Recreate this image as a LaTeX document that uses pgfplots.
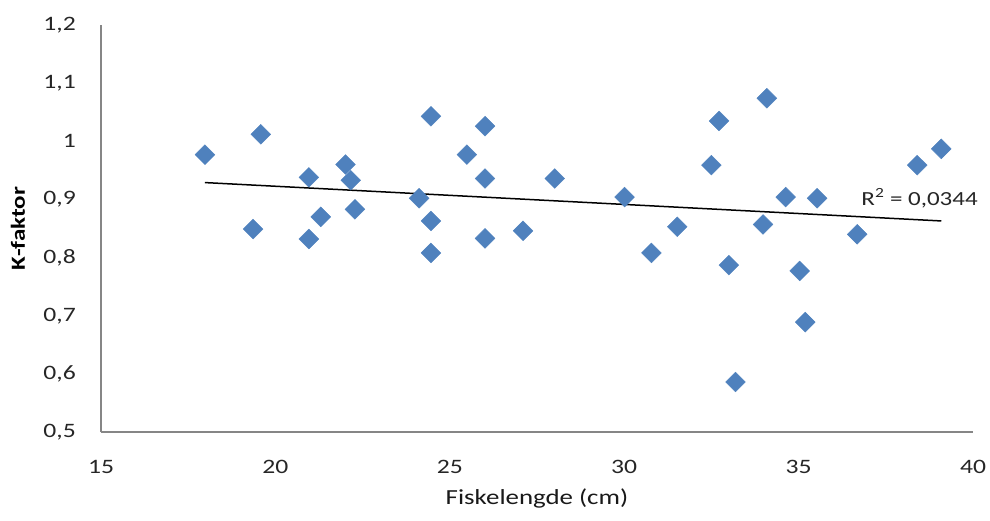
\documentclass[border=0pt]{standalone}
\usepackage{fontspec}
\setmainfont{Carlito}[FakeStretch=1.25]
\usepackage{pgfplots}
\pgfplotsset{compat=1.18}
\definecolor{exblue}{HTML}{4F81BD}
\definecolor{axgray}{HTML}{868686}
\begin{document}
\begin{tikzpicture}
\useasboundingbox (0,0) rectangle (990pt,-520pt);
\begin{axis}[
  at={(101pt,-432pt)}, anchor=south west,
  scale only axis, width=872pt, height=407pt,
  xmin=15, xmax=40, ymin=0.5, ymax=1.2,
  xtick={15,20,25,30,35,40},
  ytick={0.5,0.6,0.7,0.8,0.9,1.0,1.1,1.2},
  axis x line*=bottom, axis y line*=left,
  axis line style={draw=axgray, line width=1.2pt, -},
  major tick length=0pt,
  /pgf/number format/assume math mode=true,
  /pgf/number format/use comma,
  ticklabel style={font=\fontsize{20.5}{24}\selectfont, text=black!85, inner sep=0pt},
  yticklabel style={anchor=east, xshift=-25pt},
  xticklabel style={anchor=north, yshift=-28pt},
  xlabel={Fiskelengde (cm)},
  ylabel={K-faktor},
  xlabel style={font=\fontsize{21.5}{25}\selectfont, text=black!90, anchor=center, at={(0.5,0)}, yshift=-66pt},
  ylabel style={font=\bfseries\fontsize{20}{24}\selectfont, anchor=center, at={(0,0.5)}, yshift=83pt},
  clip=false,
]
\addplot[only marks, mark=square*, mark size=7pt, mark options={rotate=45, fill=exblue, draw=exblue}] coordinates {
(17.98,0.977) (19.58,1.012) (19.36,0.849) (20.96,0.938) (20.96,0.832)
(21.30,0.870) (22.01,0.960) (22.16,0.933) (22.28,0.883)
(24.12,0.902) (24.46,1.043) (24.46,0.863) (24.46,0.808) (25.49,0.977)
(26.01,1.026) (26.01,0.936) (26.01,0.833) (27.10,0.846) (28.01,0.936)
(30.01,0.904) (30.78,0.808) (31.52,0.853)
(32.72,1.035) (32.50,0.959) (34.09,1.074) (33.00,0.787) (33.19,0.586)
(33.98,0.857) (34.63,0.904) (35.03,0.777) (35.19,0.689) (35.53,0.902)
(36.68,0.840) (38.40,0.959) (39.09,0.987)
};
\addplot[black, line width=1.5pt, no marks] coordinates {(17.98,0.929) (39.09,0.863)};
\node[anchor=west, font=\fontsize{20}{24}\selectfont, text=black!85] at (axis cs:36.7,0.902) {R\textsuperscript{2} = 0,0344};
\end{axis}
\end{tikzpicture}
\end{document}
